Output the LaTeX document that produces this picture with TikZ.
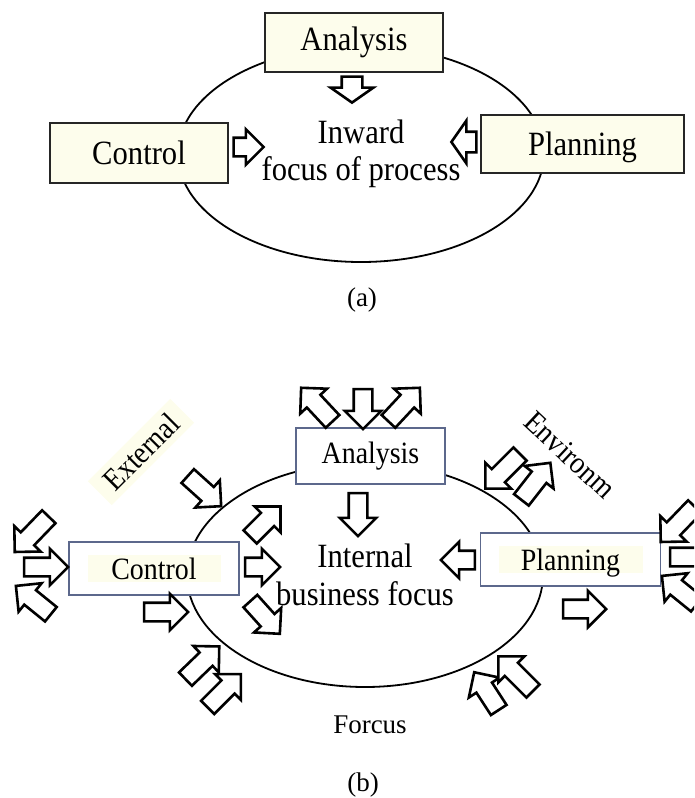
\documentclass[tikz,border=0pt]{standalone}
\usepackage{fontspec}
\setmainfont{Liberation Serif}[FakeStretch=0.9]
\newfontfamily\capfont{Liberation Serif}
\usetikzlibrary{shapes.geometric,shapes.arrows,positioning}
\definecolor{cream}{RGB}{253,253,236}
\definecolor{slate}{RGB}{92,104,140}

\begin{document}
\begin{tikzpicture}[x=1pt,y=-1pt,
  box/.style={draw=black!85,fill=cream,line width=1.6pt,font=\fontsize{34}{37}\selectfont},
  bbox/.style={draw=slate,fill=white,line width=1.3pt,font=\fontsize{31}{34}\selectfont},
  hl/.style={fill=cream,inner sep=1pt,font=\fontsize{31}{34}\selectfont},
  oval/.style={ellipse,draw,line width=1.8pt,align=center},
  blk/.style={single arrow,draw,fill=white,line width=2.6pt,inner xsep=0pt,inner ysep=8pt,single arrow head extend=9pt,minimum height=#1},
  blk/.default=44pt,
  capt/.style={font=\capfont\fontsize{27}{32}\selectfont,anchor=base}]
  \useasboundingbox (0,0) rectangle (694,798);
  \clip (0,0) rectangle (694,798);

  % (a)
  \node[oval,minimum width=366pt,minimum height=216pt,font=\fontsize{34}{37}\selectfont] (inA) at (361,154) {Inward\\focus of process};
  \node[box,minimum width=178pt,minimum height=59pt] (anA) at (354,42.5) {Analysis};
  \node[box,minimum width=178pt,minimum height=60pt] (ctA) at (139,153) {Control};
  \node[box,minimum width=203pt,minimum height=58pt,text depth=0pt] (plA) at (582.5,144) {Planning};
  \node[blk=26pt,inner ysep=9pt,single arrow head extend=11pt,single arrow tip angle=110,rotate=-90] (dA) at (352,86) {};
  \node[blk=30pt,single arrow head extend=8.5pt] (rA) at (244,147) {};
  \node[blk=25pt,inner ysep=9pt,single arrow head extend=11pt,single arrow tip angle=110,rotate=180] (lA) at (467.5,142) {};
  \node[capt] (la) at (362,306) {(a)};

  % (b)
  \node[oval,minimum width=356pt,minimum height=224pt,font=\fontsize{34}{38}\selectfont] (inB) at (365,575) {Internal\\business focus};
  \node[bbox,minimum width=149pt,minimum height=56pt] (anB) at (370.5,456) {Analysis};
  \node[bbox,minimum width=170pt,minimum height=53pt] (ctB) at (154,568.5) {};
  \node[hl,minimum width=133pt,minimum height=27pt] (ctT) at (ctB) {Control};
  \node[bbox,minimum width=180pt,minimum height=53pt] (plB) at (570.5,559.5) {};
  \node[hl,minimum width=144pt,minimum height=27pt,text depth=0pt] (plT) at (plB) {Planning};
  \node[hl,rotate=45,inner xsep=11pt,inner ysep=6pt] (ext) at (141,452) {External};
  \node[font=\fontsize{31}{34}\selectfont,rotate=-43] (env) at (570,455) {Environm};
  \foreach \x/\y/\a/\l [count=\i] in {320/408/133/46pt, 363/404.5/-90/40pt, 401/408/47/46pt,
      358/510/-90/43pt, 201/488/-42/45pt, 506/468/-135/49pt, 533/485/52/47pt,
      35/531/-134/49pt, 41.5/567/0/44pt, 37/603/141/45pt,
      262/525/45/43pt, 258/567/0/35pt, 262/614/-48/44pt, 161.5/612/0/44pt,
      199/666/44/47pt, 221/694/45/47pt, 489/695/123/45pt, 519/677/135/49pt,
      462.5/560/180/34pt, 580/609/0/43pt,
      681/521/-134/49pt, 687.5/557/0/44pt, 683/593/141/45pt}
    \node[blk=\l,rotate=\a] (b\i) at (\x,\y) {};
  \node[capt] (fo) at (370,733) {Forcus};
  \node[capt] (lb) at (363,791) {(b)};
\end{tikzpicture}
\end{document}
